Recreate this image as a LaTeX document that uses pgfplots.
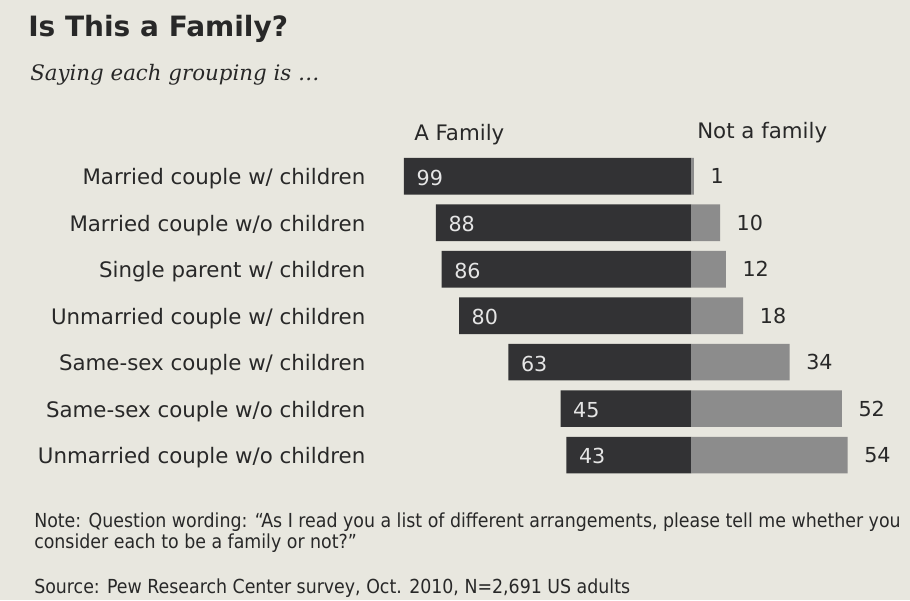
\documentclass[border=0pt]{standalone}
\usepackage{pgfplots}
\pgfplotsset{compat=1.18}
\usepackage{fontspec}
\setmainfont{DejaVu Sans}
\newfontfamily\serifit{DejaVu Serif}
\newfontfamily\cond{DejaVu Sans Condensed}
\definecolor{paper}{RGB}{232,231,223}
\definecolor{ink}{RGB}{40,40,40}
\definecolor{darkbar}{RGB}{50,50,52}
\definecolor{lightbar}{RGB}{140,140,140}
\begin{document}
\begin{tikzpicture}[x=0.75pt,y=0.75pt]
\fill[paper] (0,0) rectangle (910,-600);
\node[anchor=base west, font=\bfseries\fontsize{21}{24}\selectfont, text=ink, inner sep=0] at (28,-36) {Is This a Family?};
\node[anchor=base west, font=\serifit\itshape\fontsize{16}{19}\selectfont, text=ink, inner sep=0] at (30,-80) {Saying each grouping is \dots};
\node[anchor=base west, font=\fontsize{16}{19}\selectfont, text=ink, inner sep=0] at (414,-140) {A Family};
\node[anchor=base west, font=\fontsize{16}{19}\selectfont, text=ink, inner sep=0] at (697,-138) {Not a family};
\begin{axis}[
  at={(300.75pt,-114.75pt)}, anchor=north west,
  scale only axis, width=348pt, height=244pt,
  xmin=-100, xmax=60, ymin=-0.5, ymax=6.5, y dir=reverse,
  axis line style={draw=none}, tick style={draw=none},
  xtick=\empty, ytick={0,...,6},
  yticklabels={Married couple w/ children, Married couple w/o children, Single parent w/ children, Unmarried couple w/ children, Same-sex couple w/ children, Same-sex couple w/o children, Unmarried couple w/o children},
  yticklabel style={font=\fontsize{16}{19}\selectfont, text=ink, anchor=east, xshift=-19pt, yshift=-2pt},
  xbar, bar width=27.5pt, bar shift=0pt,
  point meta=explicit symbolic,
  nodes near coords,
  clip=false,
]
\addplot[fill=darkbar, draw=none,
  every node near coord/.append style={anchor=west, xshift=6pt, yshift=-1pt, text=white!90!black, font=\fontsize{15.5}{18}\selectfont}]
  coordinates {(-99,0) [99] (-88,1) [88] (-86,2) [86] (-80,3) [80] (-63,4) [63] (-45,5) [45] (-43,6) [43]};
\addplot[fill=lightbar, draw=none,
  every node near coord/.append style={anchor=west, xshift=9pt, text=ink, font=\fontsize{15.5}{18}\selectfont}]
  coordinates {(1,0) [1] (10,1) [10] (12,2) [12] (18,3) [18] (34,4) [34] (52,5) [52] (54,6) [54]};
\end{axis}
\node[anchor=base west, font=\cond\fontsize{14.5}{17}\selectfont, text=ink, inner sep=0] at (34,-527) {Note: Question wording: “As I read you a list of different arrangements, please tell me whether you};
\node[anchor=base west, font=\cond\fontsize{14.5}{17}\selectfont, text=ink, inner sep=0] at (34,-548) {consider each to be a family or not?”};
\node[anchor=base west, font=\cond\fontsize{14.5}{17}\selectfont, text=ink, inner sep=0] at (34,-593) {Source: Pew Research Center survey, Oct. 2010, N=2,691 US adults};
\end{tikzpicture}
\end{document}
